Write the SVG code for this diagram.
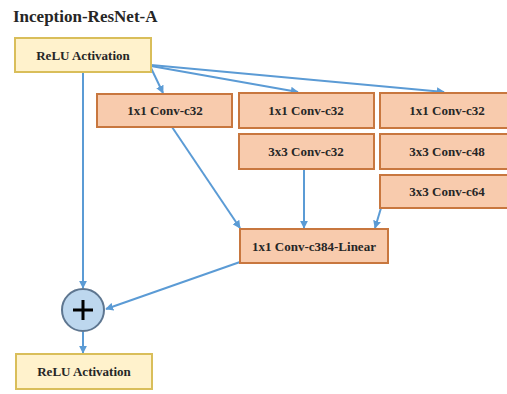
<svg xmlns="http://www.w3.org/2000/svg" width="507" height="394" viewBox="0 0 507 394">
<defs>
<marker id="ah" viewBox="0 0 10 10" refX="9" refY="5" markerWidth="4" markerHeight="4" orient="auto" markerUnits="strokeWidth">
<path d="M0,0 L10,5 L0,10 z" fill="#5B9BD5"/>
</marker>
<style>
.t{font-family:"Liberation Serif","Times New Roman",serif;font-weight:bold;fill:#262626;text-anchor:middle}
.lbl{font-size:13px}
.relu{fill:#FFF2CC;stroke:#D9BE5A;stroke-width:2}
.conv{fill:#F8CBAD;stroke:#C8773F;stroke-width:2}
.c{fill:none;stroke:#5B9BD5;stroke-width:2;marker-end:url(#ah)}
</style>
</defs>
<rect width="507" height="394" fill="#FFFFFF"/>
<text x="13" y="22" class="t" style="font-size:17px;text-anchor:start">Inception-ResNet-A</text>
<g id="connectors">
<path class="c" d="M83,72 L83,288"/>
<path class="c" d="M151,68 L163,93"/>
<path class="c" d="M151,66 L298,92"/>
<path class="c" d="M151,65 L444,92"/>
<path class="c" d="M172,127 L240,228"/>
<path class="c" d="M304,169 L304,228"/>
<path class="c" d="M381,208 L375,228"/>
<path class="c" d="M240,262 L106,309"/>
<path class="c" d="M83,332 L83,353"/>
</g>
<g id="relu1"><rect class="relu" x="15" y="38" width="136" height="34"/><text class="t lbl" x="83" y="60">ReLU Activation</text></g>
<g id="conv1"><rect class="conv" x="97" y="94" width="135" height="33"/><text class="t lbl" x="165" y="115">1x1 Conv-c32</text></g>
<g id="conv2"><rect class="conv" x="239" y="93" width="135" height="35"/><text class="t lbl" x="306" y="115">1x1 Conv-c32</text></g>
<g id="conv3"><rect class="conv" x="380" y="93" width="134" height="35"/><text class="t lbl" x="447" y="115">1x1 Conv-c32</text></g>
<g id="conv4"><rect class="conv" x="239" y="134" width="135" height="35"/><text class="t lbl" x="306" y="156">3x3 Conv-c32</text></g>
<g id="conv5"><rect class="conv" x="380" y="134" width="134" height="35"/><text class="t lbl" x="447" y="156">3x3 Conv-c48</text></g>
<g id="conv6"><rect class="conv" x="380" y="175" width="134" height="33"/><text class="t lbl" x="447" y="196">3x3 Conv-c64</text></g>
<g id="linear"><rect class="conv" x="240" y="229" width="148" height="34"/><text class="t lbl" x="314" y="251">1x1 Conv-c384-Linear</text></g>
<g id="add"><circle cx="83" cy="310" r="21" fill="#BDD7EE" stroke="#5E7690" stroke-width="2"/><path d="M73,310 H93 M83,300 V320" stroke="#000" stroke-width="3"/></g>
<g id="relu2"><rect class="relu" x="16" y="354" width="136" height="35"/><text class="t lbl" x="84" y="376">ReLU Activation</text></g>
</svg>
